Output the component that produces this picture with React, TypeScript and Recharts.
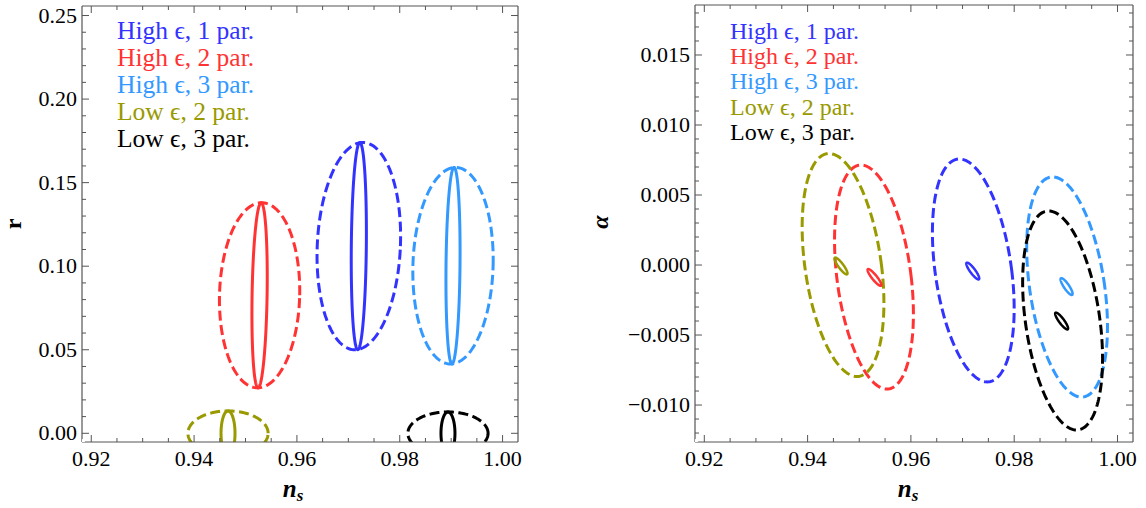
import React from "react";
import { ComposedChart, Line, XAxis, YAxis } from "recharts";

const seriesNames = [
  "High ϵ, 1 par.",
  "High ϵ, 2 par.",
  "High ϵ, 3 par.",
  "Low ϵ, 2 par.",
  "Low ϵ, 3 par.",
];
const seriesColors = ["#3333ff", "#ff3333", "#3399ff", "#999900", "#000000"];

// contour ellipses: [centre x, centre y, half width, half height, top-point shift]
const rOuter = [
  [0.97204, 0.112, 0.00809, 0.062, 0.00078],
  [0.95274, 0.0826, 0.0078, 0.0554, 0.0004],
  [0.99036, 0.1003, 0.0078, 0.0588, 0.0005],
  [0.9466, 0.0, 0.0078, 0.0134, 0.0],
  [0.98938, 0.0, 0.0078, 0.0128, 0.0],
];
const rInner = [
  [0.97204, 0.112, 0.00146, 0.062, 0.0002],
  [0.95274, 0.0826, 0.00146, 0.0554, 0.0003],
  [0.99036, 0.1003, 0.00136, 0.0588, 0.0002],
  [0.9466, 0.0, 0.00136, 0.0134, 0.0],
  [0.98938, 0.0, 0.00136, 0.0128, 0.0],
];
const alphaOuter = [
  [0.97208, -0.00039, 0.00744, 0.00796, -0.0027],
  [0.95285, -0.00086, 0.00721, 0.008, -0.00251],
  [0.99024, -0.00157, 0.0073, 0.00786, -0.0028],
  [0.94686, 0.0, 0.00744, 0.00796, -0.0027],
  [0.98937, -0.00396, 0.00725, 0.00782, -0.0027],
];
const alphaInner = [
  [0.97198, -0.00043, 0.0006, 0.0006, -0.0011],
  [0.95295, -0.00089, 0.0006, 0.0006, -0.0012],
  [0.99014, -0.00154, 0.0006, 0.0006, -0.001],
  [0.94647, -0.00007, 0.0006, 0.0006, -0.0011],
  [0.98918, -0.004, 0.0006, 0.0006, -0.0011],
];

const nsTicks = [
  0.92, 0.925, 0.93, 0.935, 0.94, 0.945, 0.95, 0.955, 0.96, 0.965, 0.97, 0.975,
  0.98, 0.985, 0.99, 0.995, 1.0,
];
const rTicks = [
  0, 0.01, 0.02, 0.03, 0.04, 0.05, 0.06, 0.07, 0.08, 0.09, 0.1, 0.11, 0.12,
  0.13, 0.14, 0.15, 0.16, 0.17, 0.18, 0.19, 0.2, 0.21, 0.22, 0.23, 0.24, 0.25,
];
const alphaTicks = [
  -0.012, -0.011, -0.01, -0.009, -0.008, -0.007, -0.006, -0.005, -0.004,
  -0.003, -0.002, -0.001, 0, 0.001, 0.002, 0.003, 0.004, 0.005, 0.006, 0.007,
  0.008, 0.009, 0.01, 0.011, 0.012, 0.013, 0.014, 0.015, 0.016, 0.017, 0.018,
];

const nsDomain = [0.9182, 1.003];
const rDomain = [-0.0052, 0.2557];
const alphaDomain = [-0.01264, 0.01857];

const FONT = "'Liberation Serif', 'Times New Roman', serif";
const FRAME = "#555";

function outline(p: number[]) {
  const [cx, cy, a, b, c] = p;
  const pts = [];
  for (let i = 0; i <= 180; i++) {
    const t = (i / 180) * 2 * Math.PI;
    pts.push({ x: cx + a * Math.cos(t) + c * Math.sin(t), y: cy + b * Math.sin(t) });
  }
  return pts;
}

const nsMajor = (v: number) => Math.round(v * 1000) % 20 === 0;
const rMajor = (v: number) => Math.round(v * 100) % 5 === 0;
const alphaMajor = (v: number) => Math.round(v * 1000) % 5 === 0;

const fmtNs = (v: number) => v.toFixed(2);
const fmtR = (v: number) => v.toFixed(2);
const fmtAlpha = (v: number) => {
  const s = Math.abs(v).toFixed(3);
  return Math.round(v * 1000) < 0 ? "\u2212" + s : s;
};

function makeTick(
  side: "bottom" | "top" | "left" | "right",
  isMajor: (v: number) => boolean,
  fmt?: (v: number) => string
) {
  return (props: any) => {
    const { x, y, payload } = props;
    const v = payload.value;
    const major = isMajor(v);
    const len = major ? 7 : 4;
    let x2 = x;
    let y2 = y;
    if (side === "bottom") y2 = y - len;
    if (side === "top") y2 = y + len;
    if (side === "left") x2 = x + len;
    if (side === "right") x2 = x - len;
    return (
      <g>
        <line x1={x} y1={y} x2={x2} y2={y2} stroke={FRAME} strokeWidth={1} />
        {major && fmt && side === "bottom" && (
          <text x={x} y={y + 24} textAnchor="middle" fontFamily={FONT} fontSize={22} fill="#000">
            {fmt(v)}
          </text>
        )}
        {major && fmt && side === "left" && (
          <text x={x - 5} y={y + 7} textAnchor="end" fontFamily={FONT} fontSize={22} fill="#000">
            {fmt(v)}
          </text>
        )}
      </g>
    );
  };
}

function Panel({
  width,
  margin,
  leftWidth,
  yTicks,
  yDomain,
  yMajor,
  yFmt,
  outer,
  inner,
  innerWidth,
}: any) {
  return (
    <ComposedChart width={width} height={508} margin={margin}>
      <XAxis
        dataKey="x"
        type="number"
        domain={nsDomain}
        allowDataOverflow
        ticks={nsTicks}
        interval={0}
        height={66}
        tickSize={0}
        tickMargin={0}
        tickLine={false}
        axisLine={{ stroke: FRAME, strokeWidth: 1.2 }}
        tick={makeTick("bottom", nsMajor, fmtNs)}
      />
      <XAxis
        xAxisId="t"
        orientation="top"
        dataKey="x"
        type="number"
        domain={nsDomain}
        allowDataOverflow
        ticks={nsTicks}
        interval={0}
        height={1}
        tickSize={0}
        tickMargin={0}
        tickLine={false}
        axisLine={{ stroke: FRAME, strokeWidth: 1.2 }}
        tick={makeTick("top", nsMajor)}
      />
      <YAxis
        type="number"
        domain={yDomain}
        allowDataOverflow
        ticks={yTicks}
        interval={0}
        width={leftWidth}
        tickSize={0}
        tickMargin={0}
        tickLine={false}
        axisLine={{ stroke: FRAME, strokeWidth: 1.2 }}
        tick={makeTick("left", yMajor, yFmt)}
      />
      <YAxis
        yAxisId="r"
        orientation="right"
        type="number"
        domain={yDomain}
        allowDataOverflow
        ticks={yTicks}
        interval={0}
        width={1}
        tickSize={0}
        tickMargin={0}
        tickLine={false}
        axisLine={{ stroke: FRAME, strokeWidth: 1.2 }}
        tick={makeTick("right", yMajor)}
      />
      <Line
        xAxisId="t"
        yAxisId="r"
        data={[{ x: nsDomain[0], y: yDomain[0] }]}
        dataKey="y"
        stroke="none"
        dot={false}
        legendType="none"
        isAnimationActive={false}
      />
      {outer.map((p: number[], i: number) => (
        <Line
          key={"o" + i}
          data={outline(p)}
          dataKey="y"
          type="linear"
          stroke={seriesColors[i]}
          strokeWidth={3}
          strokeDasharray="10 4.5"
          dot={false}
          activeDot={false}
          isAnimationActive={false}
        />
      ))}
      {inner.map((p: number[], i: number) => (
        <Line
          key={"i" + i}
          data={outline(p)}
          dataKey="y"
          type="linear"
          stroke={seriesColors[i]}
          strokeWidth={innerWidth}
          dot={false}
          activeDot={false}
          isAnimationActive={false}
        />
      ))}
    </ComposedChart>
  );
}

export default function App() {
  return (
    <div
      style={{
        position: "absolute",
        left: 0,
        top: 0,
        width: 1146,
        height: 508,
        background: "#fff",
      }}
    >
      <div style={{ position: "absolute", left: 0, top: 0 }}>
        <Panel
          width={540}
          margin={{ top: 5, right: 21, bottom: 0, left: 0 }}
          leftWidth={82}
          yTicks={rTicks}
          yDomain={rDomain}
          yMajor={rMajor}
          yFmt={fmtR}
          outer={rOuter}
          inner={rInner}
          innerWidth={3}
        />
      </div>
      <div style={{ position: "absolute", left: 573, top: 0 }}>
        <Panel
          width={573}
          margin={{ top: 4, right: 12, bottom: 0, left: 0 }}
          leftWidth={122}
          yTicks={alphaTicks}
          yDomain={alphaDomain}
          yMajor={alphaMajor}
          yFmt={fmtAlpha}
          outer={alphaOuter}
          inner={alphaInner}
          innerWidth={2.5}
        />
      </div>
      <svg
        width={1146}
        height={508}
        style={{ position: "absolute", left: 0, top: 0, pointerEvents: "none" }}
        fontFamily={FONT}
      >
        {seriesNames.map((n, i) => (
          <text key={"l" + i} x={117} y={39 + i * 26.9} fontSize={25.5} fill={seriesColors[i]}>
            {n}
          </text>
        ))}
        {seriesNames.map((n, i) => (
          <text key={"r" + i} x={730} y={38.5 + i * 25.4} fontSize={24} fill={seriesColors[i]}>
            {n}
          </text>
        ))}
        <text x={21} y={224} fontSize={24} fontWeight="bold" textAnchor="middle" transform="rotate(-90 21 224)">
          r
        </text>
        <text x={608} y={222} fontSize={24} fontWeight="bold" fontStyle="italic" textAnchor="middle" transform="rotate(-90 608 222)">
          α
        </text>
        <text x={293} y={497} fontSize={25} fontWeight="bold" fontStyle="italic" textAnchor="middle">
          n<tspan fontSize={17} dy={4}>s</tspan>
        </text>
        <text x={908} y={497} fontSize={25} fontWeight="bold" fontStyle="italic" textAnchor="middle">
          n<tspan fontSize={17} dy={4}>s</tspan>
        </text>
      </svg>
    </div>
  );
}
